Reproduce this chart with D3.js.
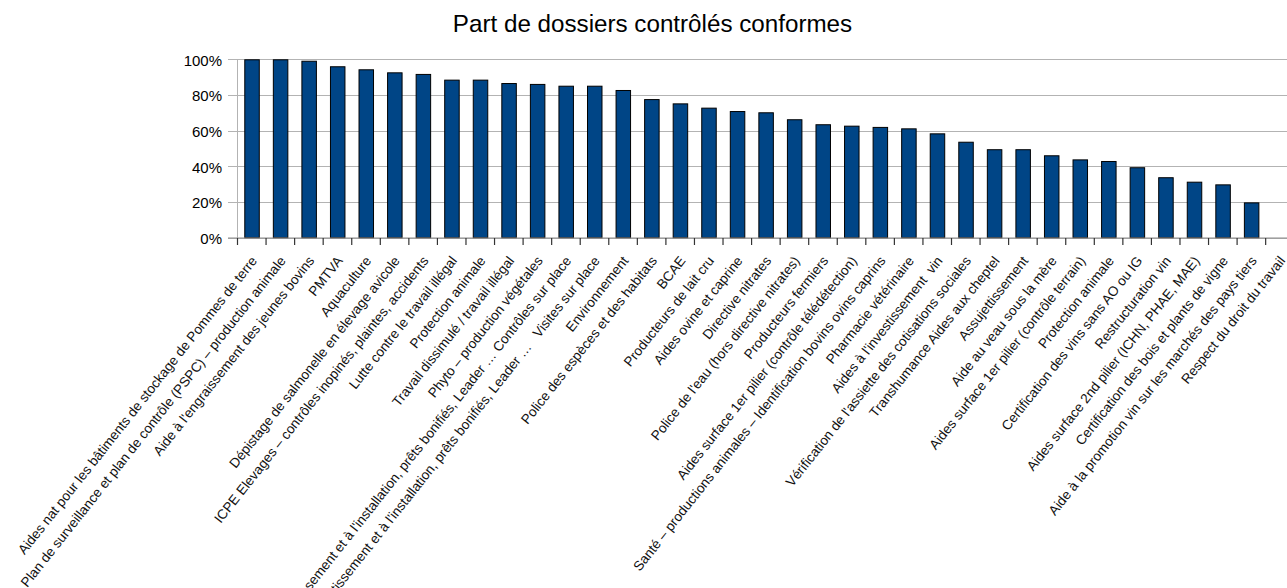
<!DOCTYPE html>
<html>
<head>
<meta charset="utf-8">
<script src="https://cdn.jsdelivr.net/npm/d3@7"></script>
<style>
  html, body { margin: 0; padding: 0; background: #fff; }
  svg { display: block; font-family: "Liberation Sans", Arial, sans-serif; }
</style>
</head>
<body>
<svg id="chart" width="1287" height="588"></svg>
<script>
const title = "Part de dossiers contrôlés conformes";

const categories = [
  "Aides nat pour les bâtiments de stockage de Pommes de terre",
  "Plan de surveillance et plan de contrôle (PSPC) – production animale",
  "Aide à l'engraissement des jeunes bovins",
  "PMTVA",
  "Aquaculture",
  "Dépistage de salmonelle en élevage avicole",
  "ICPE Elevages – contrôles inopinés, plaintes, accidents",
  "Lutte contre le travail illégal",
  "Protection animale",
  "Travail dissimulé / travail illégal",
  "Phyto – production végétales",
  "Aides à l'investissement et à l'installation, prêts bonifiés, Leader … Contrôles sur place",
  "Aides à l'investissement et à l'installation, prêts bonifiés, Leader …   Visites sur place",
  "Environnement",
  "Police des espèces et des habitats",
  "BCAE",
  "Producteurs de lait cru",
  "Aides ovine et caprine",
  "Directive nitrates",
  "Police de l'eau (hors directive nitrates)",
  "Producteurs fermiers",
  "Aides surface 1er pilier (contrôle télédétection)",
  "Santé – productions animales – Identification bovins ovins caprins",
  "Pharmacie vétérinaire",
  "Aides à l'investissement  vin",
  "Vérification de l'assiette des cotisations sociales",
  "Transhumance Aides aux cheptel",
  "Assujettissement",
  "Aide au veau sous la mère",
  "Aides surface 1er pilier (contrôle terrain)",
  "Protection animale",
  "Certification des vins sans AO ou IG",
  "Restructuration vin",
  "Aides surface 2nd pilier (ICHN, PHAE, MAE)",
  "Certification des bois et plants de vigne",
  "Aide à la promotion vin sur les marchés des pays tiers",
  "Respect du droit du travail"
];

const values = [
  100, 100, 99.2, 96.1, 94.4, 92.7, 91.8, 88.6, 88.6, 86.7,
  86.2, 85.2, 85.2, 82.8, 77.7, 75.3, 72.9, 71.0, 70.3, 66.4,
  63.6, 62.8, 62.1, 61.3, 58.5, 53.8, 49.6, 49.6, 46.2, 43.9,
  43.0, 39.5, 33.9, 31.4, 29.9, 19.8, null
];

const yTicks = [0, 20, 40, 60, 80, 100];

const svg = d3.select("#chart");

const x = d3.scaleBand()
  .domain(d3.range(categories.length))
  .range([237.5, 237.5 + 28.56 * categories.length])
  .paddingInner(0.475)
  .paddingOuter(0.2375);

const y = d3.scaleLinear().domain([0, 100]).range([237.7, 59.3]);

// title
svg.append("text")
  .attr("x", 652.5).attr("y", 32)
  .attr("text-anchor", "middle")
  .attr("font-size", 24.2)
  .attr("fill", "#000")
  .text(title);

// gridlines
svg.append("g").selectAll("line").data(yTicks).join("line")
  .attr("x1", 228).attr("x2", 1287)
  .attr("y1", d => Math.round(y(d)) + 0.5).attr("y2", d => Math.round(y(d)) + 0.5)
  .attr("stroke", "#b3b3b3").attr("stroke-width", 1);

// y axis line
svg.append("line")
  .attr("x1", 237.5).attr("x2", 237.5)
  .attr("y1", y(100)).attr("y2", y(0))
  .attr("stroke", "#b3b3b3");

// y labels
svg.append("g").selectAll("text").data(yTicks).join("text")
  .attr("x", 222).attr("y", d => y(d) + 6.3)
  .attr("text-anchor", "end")
  .attr("font-size", 15)
  .attr("fill", "#000")
  .text(d => d + "%");

// bars
const bandStep = x.step();
svg.append("g").selectAll("rect")
  .data(values.map((v, i) => ({v, i})).filter(d => d.v != null))
  .join("rect")
  .attr("x", d => x(d.i) + 0.5)
  .attr("width", x.bandwidth() - 0.5)
  .attr("y", d => y(d.v) + 0.5)
  .attr("height", d => y(0) - y(d.v) - 0.5)
  .attr("fill", "#004586")
  .attr("stroke", "#000")
  .attr("stroke-width", 1);

// x axis line
svg.append("line")
  .attr("x1", 228).attr("x2", 1287)
  .attr("y1", 238).attr("y2", 238)
  .attr("stroke", "#8c8c8c").attr("stroke-width", 1.2);

// x ticks at band boundaries
const boundaries = d3.range(categories.length + 1).map(i => 237.5 + i * bandStep);
svg.append("g").selectAll("line").data(boundaries).join("line")
  .attr("x1", d => d).attr("x2", d => d)
  .attr("y1", 238).attr("y2", 245)
  .attr("stroke", "#333").attr("stroke-width", 1.2);

// x labels
svg.append("g").selectAll("text").data(categories).join("text")
  .attr("transform", (d, i) => `translate(${x(i) + x.bandwidth() / 2 + 6},261) rotate(-51.6)`)
  .attr("text-anchor", "end")
  .attr("font-size", 13.6)
  .attr("fill", "#111")
  .style("white-space", "pre")
  .text(d => d);
</script>
</body>
</html>
